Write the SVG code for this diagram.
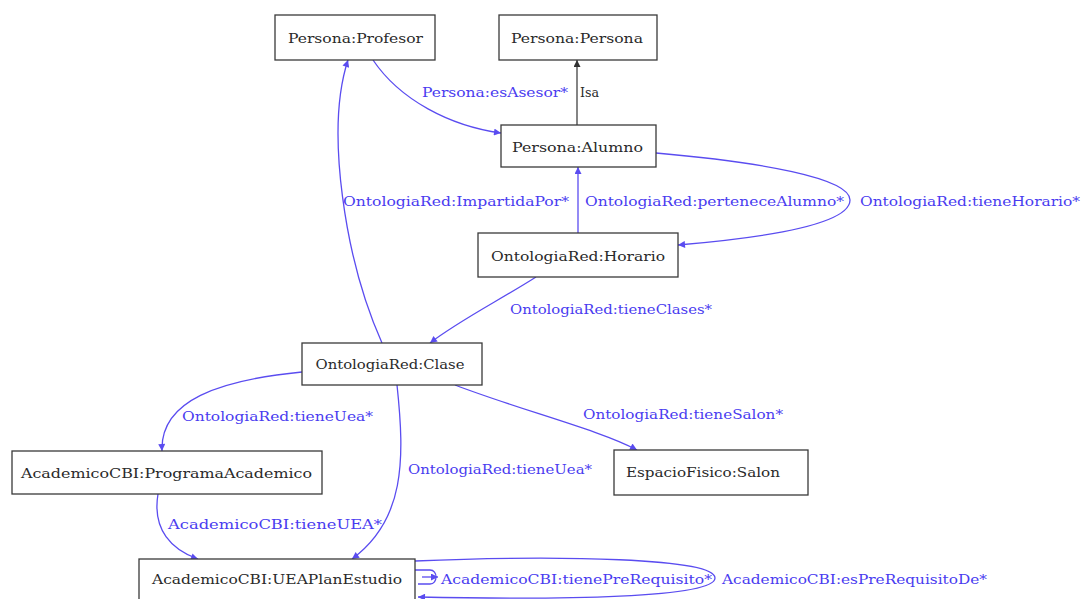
<svg xmlns="http://www.w3.org/2000/svg" width="1081" height="599" viewBox="0 0 1081 599">
<defs>
<style>
.node rect{fill:#fff;stroke:#3a3a3a;stroke-width:1.3}
.node text{font-family:"DejaVu Serif","Liberation Serif",serif;font-size:13px;fill:#2a2a2a;text-anchor:middle;dominant-baseline:central}
.edge{fill:none;stroke:#5a4cf0;stroke-width:1.3}
.edgeb{fill:none;stroke:#333;stroke-width:1.2}
.lbl{font-family:"DejaVu Serif","Liberation Serif",serif;font-size:13px;fill:#4a3cf0;dominant-baseline:central}
.lblb{font-family:"DejaVu Serif","Liberation Serif",serif;font-size:13px;fill:#2a2a2a;dominant-baseline:central}
</style>
<marker id="ab" viewBox="0 0 10 10" refX="10" refY="5" markerWidth="9" markerHeight="7" orient="auto" markerUnits="userSpaceOnUse">
<path d="M0,0 L10,5 L0,10 z" fill="#5a4cf0"/>
</marker>
<marker id="ak" viewBox="0 0 10 10" refX="10" refY="5" markerWidth="9" markerHeight="7" orient="auto" markerUnits="userSpaceOnUse">
<path d="M0,0 L10,5 L0,10 z" fill="#333"/>
</marker>
</defs>
<rect width="1081" height="599" fill="#fff"/>
<g id="connectors">
<path class="edge" d="M373,60 C400,100 450,126 501,133" marker-end="url(#ab)"/>
<path class="edgeb" d="M577,125 L577,60" marker-end="url(#ak)"/>
<path class="edge" d="M382,343 C345,260 325,130 348,60" marker-end="url(#ab)"/>
<path class="edge" d="M578,233 L578,167" marker-end="url(#ab)"/>
<path class="edge" d="M656,153 C760,162 850,178 850,200 C850,225 760,238 678,245" marker-end="url(#ab)"/>
<path class="edge" d="M536,277 C500,300 460,320 430,343" marker-end="url(#ab)"/>
<path class="edge" d="M302,372 C220,380 160,400 162,451" marker-end="url(#ab)"/>
<path class="edge" d="M397,385 C405,460 405,520 352,559" marker-end="url(#ab)"/>
<path class="edge" d="M455,385 C520,410 600,430 637,450" marker-end="url(#ab)"/>
<path class="edge" d="M158,494 C152,530 172,550 198,559" marker-end="url(#ab)"/>
<path class="edge" d="M415,570 L430,570 C438,570 438,584 430,584 L418,584"/>
<path class="edge" d="M422,577 L438,577" marker-end="url(#ab)"/>
<path class="edge" d="M415,561 C560,555 715,558 715,578 C715,598 560,600 418,597" marker-end="url(#ab)"/>
</g>
<g id="labels">
<text class="lbl" x="422" y="92" textLength="146" lengthAdjust="spacingAndGlyphs">Persona:esAsesor*</text>
<text class="lblb" x="580" y="92" textLength="19" lengthAdjust="spacingAndGlyphs">Isa</text>
<text class="lbl" x="343" y="201" textLength="226" lengthAdjust="spacingAndGlyphs">OntologiaRed:ImpartidaPor*</text>
<text class="lbl" x="585" y="201" textLength="259" lengthAdjust="spacingAndGlyphs">OntologiaRed:perteneceAlumno*</text>
<text class="lbl" x="860" y="201" textLength="220" lengthAdjust="spacingAndGlyphs">OntologiaRed:tieneHorario*</text>
<text class="lbl" x="510" y="309" textLength="202" lengthAdjust="spacingAndGlyphs">OntologiaRed:tieneClases*</text>
<text class="lbl" x="182" y="416" textLength="191" lengthAdjust="spacingAndGlyphs">OntologiaRed:tieneUea*</text>
<text class="lbl" x="583" y="414" textLength="200" lengthAdjust="spacingAndGlyphs">OntologiaRed:tieneSalon*</text>
<text class="lbl" x="408" y="469" textLength="184" lengthAdjust="spacingAndGlyphs">OntologiaRed:tieneUea*</text>
<text class="lbl" x="168" y="524" textLength="214" lengthAdjust="spacingAndGlyphs">AcademicoCBI:tieneUEA*</text>
<text class="lbl" x="441" y="579" textLength="271" lengthAdjust="spacingAndGlyphs">AcademicoCBI:tienePreRequisito*</text>
<text class="lbl" x="722" y="579" textLength="265" lengthAdjust="spacingAndGlyphs">AcademicoCBI:esPreRequisitoDe*</text>
</g>
<g id="n-profesor" class="node"><rect x="275" y="15" width="160" height="45"/><text x="355.5" y="38" textLength="135" lengthAdjust="spacingAndGlyphs">Persona:Profesor</text></g>
<g id="n-persona" class="node"><rect x="499" y="15" width="158" height="45"/><text x="577" y="38" textLength="132" lengthAdjust="spacingAndGlyphs">Persona:Persona</text></g>
<g id="n-alumno" class="node"><rect x="501" y="125" width="155" height="42"/><text x="577.5" y="147" textLength="131" lengthAdjust="spacingAndGlyphs">Persona:Alumno</text></g>
<g id="n-horario" class="node"><rect x="478" y="233" width="200" height="44"/><text x="578" y="256" textLength="174" lengthAdjust="spacingAndGlyphs">OntologiaRed:Horario</text></g>
<g id="n-clase" class="node"><rect x="302" y="343" width="180" height="42"/><text x="390" y="364" textLength="149" lengthAdjust="spacingAndGlyphs">OntologiaRed:Clase</text></g>
<g id="n-programa" class="node"><rect x="12" y="451" width="310" height="43"/><text x="166.5" y="473" textLength="291" lengthAdjust="spacingAndGlyphs">AcademicoCBI:ProgramaAcademico</text></g>
<g id="n-salon" class="node"><rect x="614" y="450" width="194" height="45"/><text x="703" y="472" textLength="154" lengthAdjust="spacingAndGlyphs">EspacioFisico:Salon</text></g>
<g id="n-uea" class="node"><rect x="139" y="559" width="276" height="46"/><text x="277" y="579" textLength="250" lengthAdjust="spacingAndGlyphs">AcademicoCBI:UEAPlanEstudio</text></g>
</svg>
